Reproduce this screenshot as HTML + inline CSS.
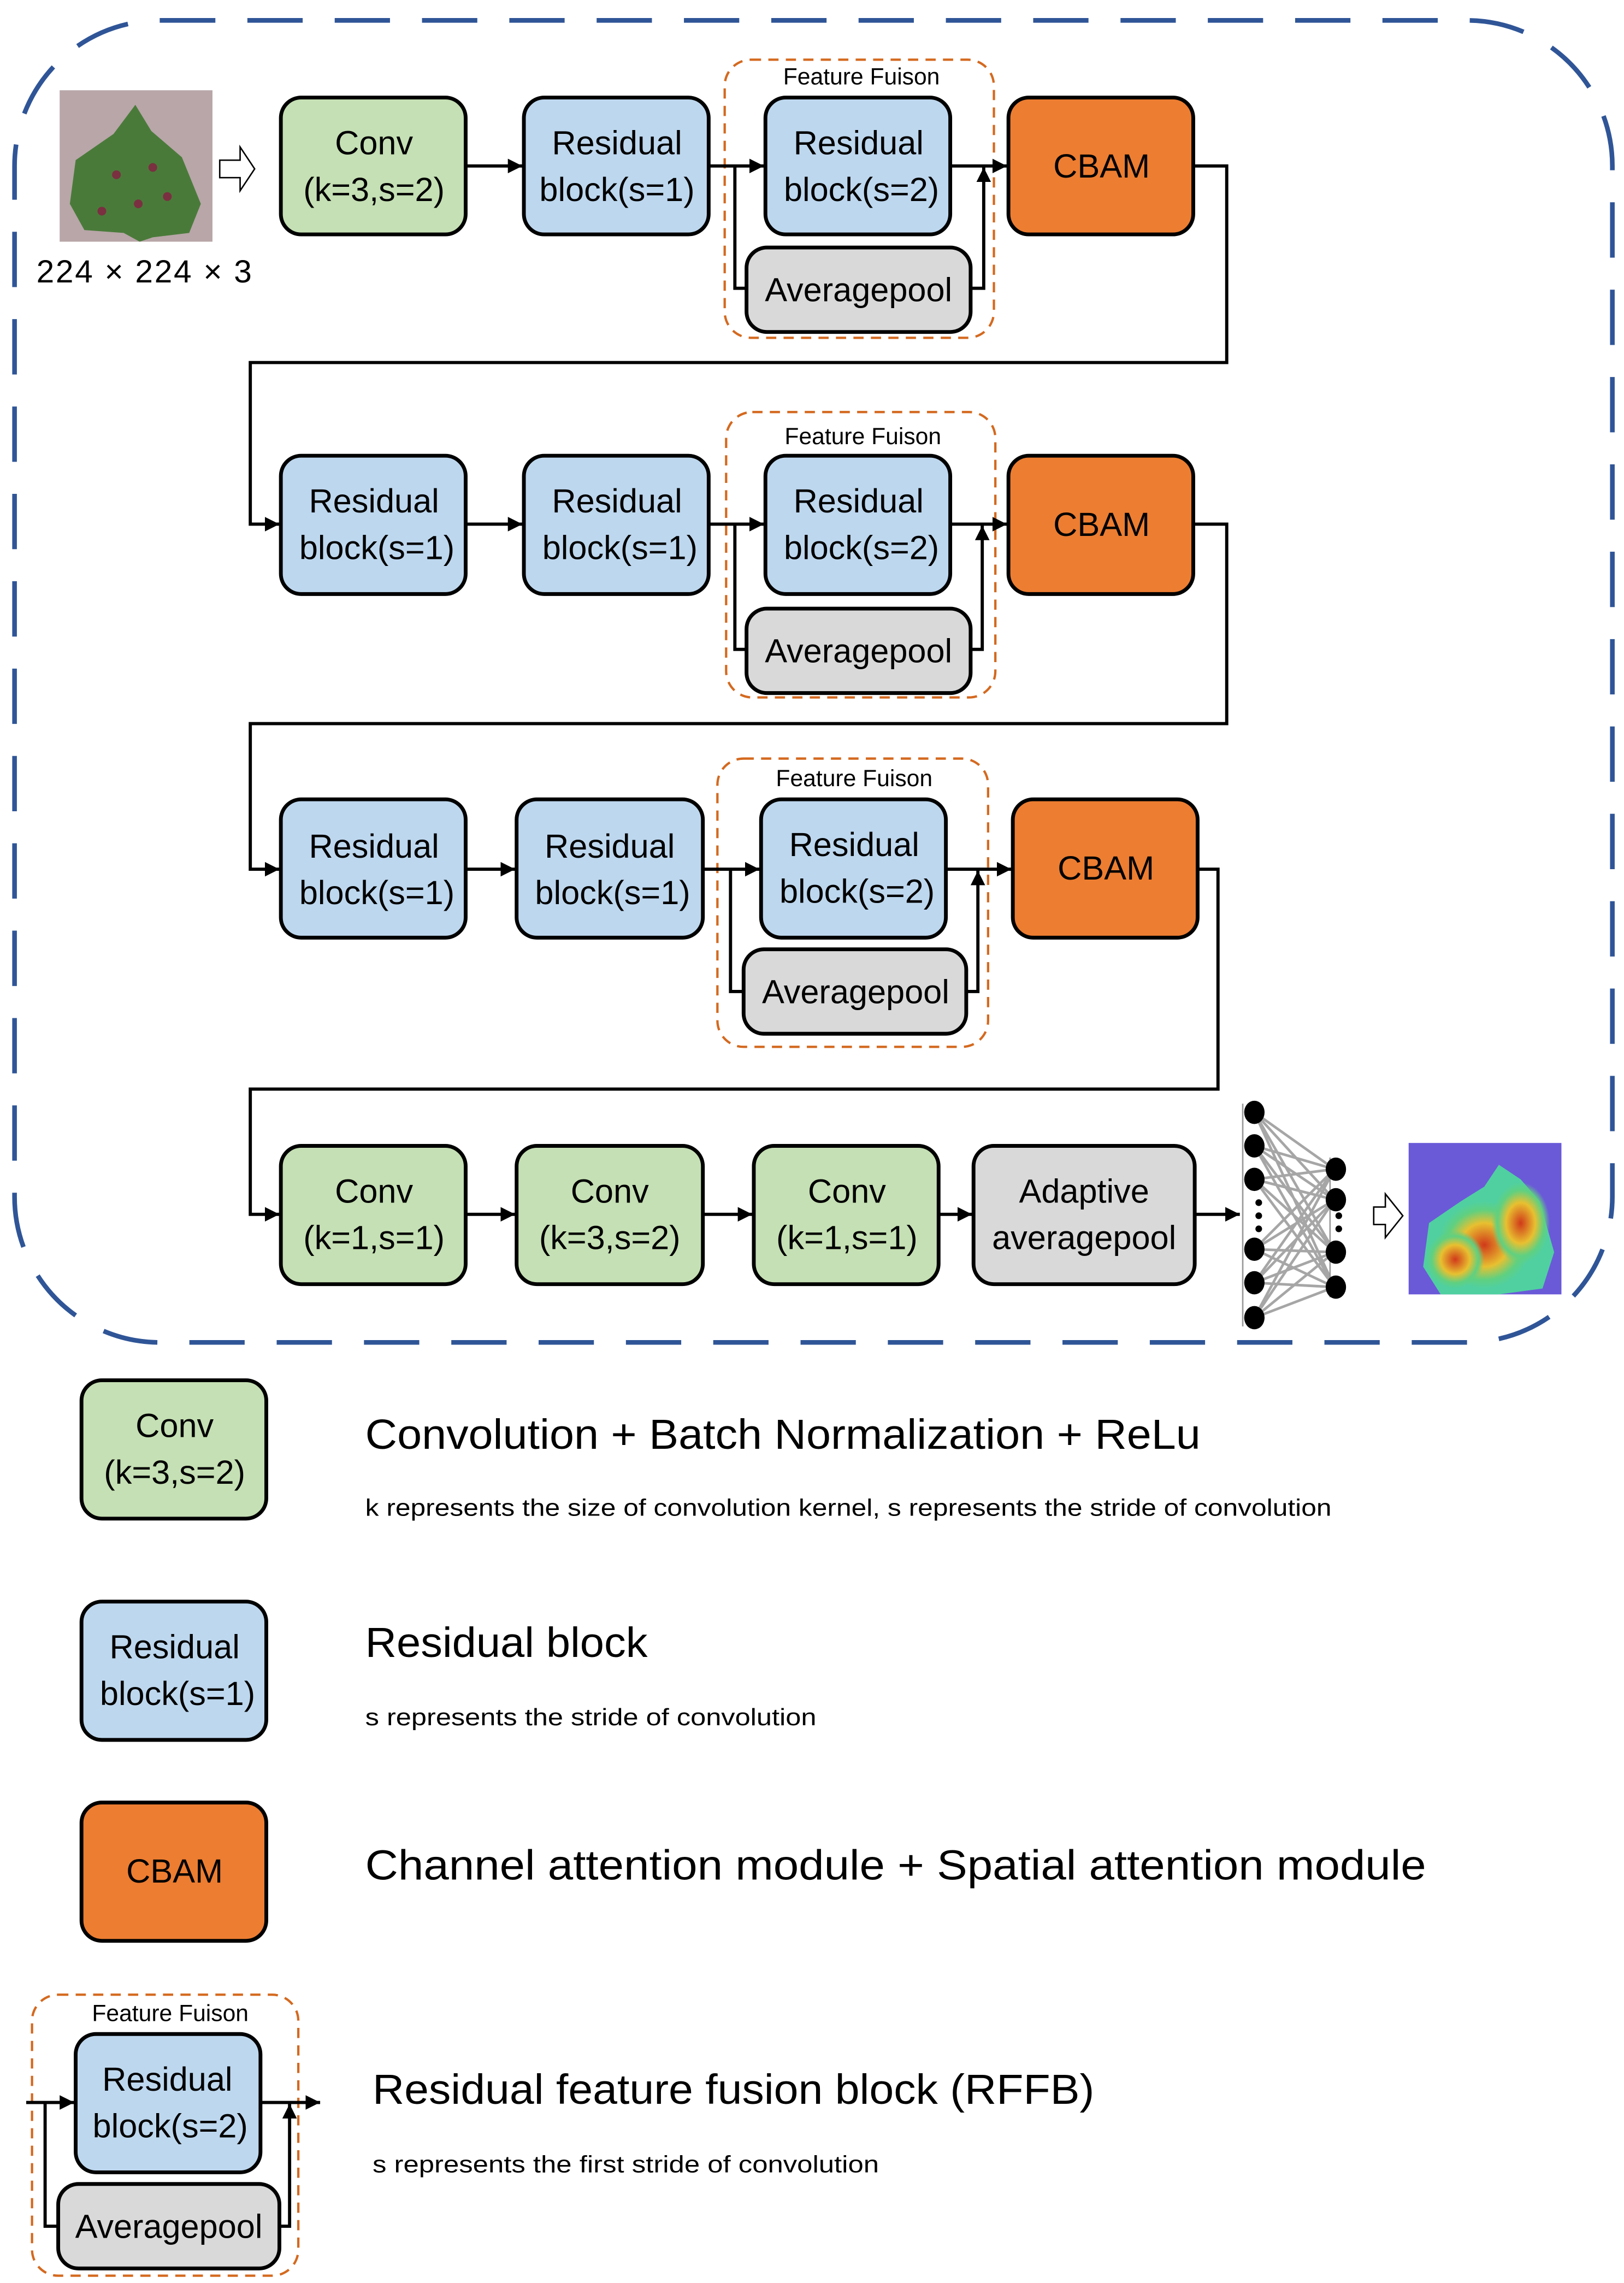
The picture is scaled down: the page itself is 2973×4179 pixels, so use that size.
<!DOCTYPE html>
<html><head><meta charset="utf-8"><style>
html,body{margin:0;padding:0;background:#fff}
svg{display:block}
text{font-family:"Liberation Sans",sans-serif;fill:#000}
.b{stroke:#000;stroke-width:2.6}
.t{font-size:23px;text-anchor:middle}
.l{stroke:#000;stroke-width:2.2;fill:none}
.ff{fill:none;stroke:#d4691f;stroke-width:1.6;stroke-dasharray:7,5}
</style></head><body>
<svg width="2973" height="4179" viewBox="0 0 1116 1568" preserveAspectRatio="none" xmlns="http://www.w3.org/2000/svg">
<defs>
<marker id="A" viewBox="0 0 10 10" refX="10" refY="5" markerWidth="10" markerHeight="10" orient="auto" markerUnits="userSpaceOnUse"><path d="M0,0 L10,5 L0,10 z" fill="#000"/></marker>
<radialGradient id="h1" cx="0.5" cy="0.5" r="0.5"><stop offset="0" stop-color="#d03a1a"/><stop offset="0.5" stop-color="#e8c030"/><stop offset="0.8" stop-color="#60d080"/><stop offset="1" stop-color="#60d080" stop-opacity="0"/></radialGradient>
</defs>
<rect x="10" y="14" width="1098" height="908" rx="100" fill="none" stroke="#2f5597" stroke-width="3.2" stroke-dasharray="38,22"/>

<!-- leaf -->
<rect x="41" y="62" width="105" height="104" fill="#b8a6a8"/>
<path d="M93,72 L104,90 L125,108 L138,140 L130,160 L105,163 L96,166 L85,160 L58,158 L48,140 L52,110 L78,92 Z" fill="#4a7a3a"/>
<circle cx="80" cy="120" r="3" fill="#7a3040"/><circle cx="105" cy="115" r="3" fill="#7a3040"/><circle cx="95" cy="140" r="3" fill="#7a3040"/><circle cx="115" cy="135" r="3" fill="#7a3040"/><circle cx="70" cy="145" r="3" fill="#7a3040"/>
<text x="25" y="194" style="font-size:22px" textLength="148" lengthAdjust="spacing">224 × 224 × 3</text>
<path d="M151,110 h14 v-9 l10,15 l-10,15 v-9 h-14z" fill="#fff" stroke="#000" stroke-width="1"/>

<!-- Row1 -->
<rect class="b" x="193" y="67" width="127" height="94" rx="14" fill="#c5e0b4"/>
<text class="t" x="257" y="106">Conv</text><text class="t" x="257" y="138">(k=3,s=2)</text>
<rect class="b" x="360" y="67" width="127" height="94" rx="14" fill="#bdd7ee"/>
<text class="t" x="424" y="106">Residual</text><text class="t" x="424" y="138">block(s=1)</text>
<rect class="ff" x="498" y="41" width="185" height="191" rx="18"/>
<text x="592" y="58" style="font-size:16px;text-anchor:middle">Feature Fuison</text>
<rect class="b" x="526" y="67" width="127" height="94" rx="14" fill="#bdd7ee"/>
<text class="t" x="590" y="106">Residual</text><text class="t" x="592" y="138">block(s=2)</text>
<rect class="b" x="513" y="170" width="154" height="58" rx="14" fill="#d9d9d9"/>
<text class="t" x="590" y="207">Averagepool</text>
<rect class="b" x="693" y="67" width="127" height="94" rx="14" fill="#ed7d31"/>
<text class="t" x="757" y="122">CBAM</text>
<path class="l" d="M320,114 H359" marker-end="url(#A)"/>
<path class="l" d="M487,114 H525" marker-end="url(#A)"/>
<path class="l" d="M505,114 V198 H513"/>
<path class="l" d="M667,198 H676 V115" marker-end="url(#A)"/>
<path class="l" d="M653,114 H692" marker-end="url(#A)"/>
<path class="l" d="M820,114 H843 V249 H172 V360 H192" marker-end="url(#A)"/>

<!-- Row2 -->
<rect class="b" x="193" y="313" width="127" height="95" rx="14" fill="#bdd7ee"/>
<text class="t" x="257" y="352">Residual</text><text class="t" x="259" y="384">block(s=1)</text>
<rect class="b" x="360" y="313" width="127" height="95" rx="14" fill="#bdd7ee"/>
<text class="t" x="424" y="352">Residual</text><text class="t" x="426" y="384">block(s=1)</text>
<rect class="ff" x="499" y="283" width="185" height="196" rx="18"/>
<text x="593" y="305" style="font-size:16px;text-anchor:middle">Feature Fuison</text>
<rect class="b" x="526" y="313" width="127" height="95" rx="14" fill="#bdd7ee"/>
<text class="t" x="590" y="352">Residual</text><text class="t" x="592" y="384">block(s=2)</text>
<rect class="b" x="513" y="418" width="154" height="58" rx="14" fill="#d9d9d9"/>
<text class="t" x="590" y="455">Averagepool</text>
<rect class="b" x="693" y="313" width="127" height="95" rx="14" fill="#ed7d31"/>
<text class="t" x="757" y="368">CBAM</text>
<path class="l" d="M320,360 H359" marker-end="url(#A)"/>
<path class="l" d="M487,360 H525" marker-end="url(#A)"/>
<path class="l" d="M505,360 V446 H513"/>
<path class="l" d="M667,446 H675 V361" marker-end="url(#A)"/>
<path class="l" d="M653,360 H692" marker-end="url(#A)"/>
<path class="l" d="M820,360 H843 V497 H172 V597 H192" marker-end="url(#A)"/>

<!-- Row3 -->
<rect class="b" x="193" y="549" width="127" height="95" rx="14" fill="#bdd7ee"/>
<text class="t" x="257" y="589">Residual</text><text class="t" x="259" y="621">block(s=1)</text>
<rect class="b" x="355" y="549" width="128" height="95" rx="14" fill="#bdd7ee"/>
<text class="t" x="419" y="589">Residual</text><text class="t" x="421" y="621">block(s=1)</text>
<rect class="ff" x="493" y="521" width="186" height="198" rx="18"/>
<text x="587" y="540" style="font-size:16px;text-anchor:middle">Feature Fuison</text>
<rect class="b" x="523" y="549" width="127" height="95" rx="14" fill="#bdd7ee"/>
<text class="t" x="587" y="588">Residual</text><text class="t" x="589" y="620">block(s=2)</text>
<rect class="b" x="511" y="652" width="153" height="58" rx="14" fill="#d9d9d9"/>
<text class="t" x="588" y="689">Averagepool</text>
<rect class="b" x="696" y="549" width="127" height="95" rx="14" fill="#ed7d31"/>
<text class="t" x="760" y="604">CBAM</text>
<path class="l" d="M320,597 H354" marker-end="url(#A)"/>
<path class="l" d="M483,597 H522" marker-end="url(#A)"/>
<path class="l" d="M502,597 V681 H511"/>
<path class="l" d="M664,681 H672 V598" marker-end="url(#A)"/>
<path class="l" d="M650,597 H695" marker-end="url(#A)"/>
<path class="l" d="M823,597 H837 V748 H172 V834 H192" marker-end="url(#A)"/>

<!-- Row4 -->
<rect class="b" x="193" y="787" width="127" height="95" rx="14" fill="#c5e0b4"/>
<text class="t" x="257" y="826">Conv</text><text class="t" x="257" y="858">(k=1,s=1)</text>
<rect class="b" x="355" y="787" width="128" height="95" rx="14" fill="#c5e0b4"/>
<text class="t" x="419" y="826">Conv</text><text class="t" x="419" y="858">(k=3,s=2)</text>
<rect class="b" x="518" y="787" width="127" height="95" rx="14" fill="#c5e0b4"/>
<text class="t" x="582" y="826">Conv</text><text class="t" x="582" y="858">(k=1,s=1)</text>
<rect class="b" x="669" y="787" width="152" height="95" rx="14" fill="#d9d9d9"/>
<text class="t" x="745" y="826">Adaptive</text><text class="t" x="745" y="858">averagepool</text>
<path class="l" d="M320,834 H354" marker-end="url(#A)"/>
<path class="l" d="M483,834 H517" marker-end="url(#A)"/>
<path class="l" d="M645,834 H668" marker-end="url(#A)"/>
<path class="l" d="M821,834 H852" marker-end="url(#A)"/>

<!-- NN -->
<g stroke="#a6a6a6" stroke-width="1.8">
<path d="M862,764 L917,803 M862,764 L917,824 M862,764 L917,860 M862,764 L917,884
M862,787 L917,803 M862,787 L917,824 M862,787 L917,860 M862,787 L917,884
M862,810 L917,803 M862,810 L917,824 M862,810 L917,860 M862,810 L917,884
M862,858 L917,803 M862,858 L917,824 M862,858 L917,860 M862,858 L917,884
M862,881 L917,803 M862,881 L917,824 M862,881 L917,860 M862,881 L917,884
M862,905 L917,803 M862,905 L917,824 M862,905 L917,860 M862,905 L917,884"/>
</g>
<path d="M854,758 V911 M914,795 V891" stroke="#999" stroke-width="1"/>
<g fill="#000">
<ellipse cx="862" cy="764" rx="7" ry="8"/><ellipse cx="862" cy="787" rx="7" ry="8"/><ellipse cx="862" cy="810" rx="7" ry="8"/>
<ellipse cx="862" cy="858" rx="7" ry="8"/><ellipse cx="862" cy="881" rx="7" ry="8"/><ellipse cx="862" cy="905" rx="7" ry="8"/>
<ellipse cx="918" cy="803" rx="7" ry="8"/><ellipse cx="918" cy="824" rx="7" ry="8"/><ellipse cx="918" cy="860" rx="7" ry="8"/><ellipse cx="918" cy="884" rx="7" ry="8"/>
<circle cx="865" cy="826" r="2.3"/><circle cx="865" cy="835" r="2.3"/><circle cx="865" cy="844" r="2.3"/>
<circle cx="920" cy="826" r="2.3"/><circle cx="920" cy="835" r="2.3"/><circle cx="920" cy="844" r="2.3"/>
</g>
<path d="M944,829 h8 v-9 l12,15 l-12,15 v-9 h-8z" fill="#fff" stroke="#000" stroke-width="1"/>
<!-- heatmap -->
<rect x="968" y="785" width="105" height="104" fill="#6a5ad8"/>
<path d="M1004,825 L1020,815 L1030,800 L1045,810 L1058,825 L1068,860 L1060,885 L1030,889 L990,889 L978,870 L982,840 Z" fill="#50d0a0"/>
<ellipse cx="1020" cy="855" rx="32" ry="30" fill="url(#h1)"/>
<ellipse cx="1045" cy="840" rx="20" ry="28" fill="url(#h1)"/>
<ellipse cx="1000" cy="865" rx="20" ry="20" fill="url(#h1)"/>

<!-- Legend -->
<rect class="b" x="56" y="948" width="127" height="95" rx="14" fill="#c5e0b4"/>
<text class="t" x="120" y="987">Conv</text><text class="t" x="120" y="1019">(k=3,s=2)</text>
<text x="251" y="995" style="font-size:29px" textLength="574" lengthAdjust="spacingAndGlyphs">Convolution + Batch Normalization + ReLu</text>
<text x="251" y="1041" style="font-size:16.5px" textLength="664" lengthAdjust="spacingAndGlyphs">k represents the size of convolution kernel, s represents the stride of convolution</text>

<rect class="b" x="56" y="1100" width="127" height="95" rx="14" fill="#bdd7ee"/>
<text class="t" x="120" y="1139">Residual</text><text class="t" x="122" y="1171">block(s=1)</text>
<text x="251" y="1138" style="font-size:29px" textLength="194" lengthAdjust="spacingAndGlyphs">Residual block</text>
<text x="251" y="1185" style="font-size:16.5px" textLength="310" lengthAdjust="spacingAndGlyphs">s represents the stride of  convolution</text>

<rect class="b" x="56" y="1238" width="127" height="95" rx="14" fill="#ed7d31"/>
<text class="t" x="120" y="1293">CBAM</text>
<text x="251" y="1291" style="font-size:29px" textLength="729" lengthAdjust="spacingAndGlyphs">Channel attention module + Spatial attention module</text>

<rect class="ff" x="22" y="1370" width="183" height="193" rx="18"/>
<text x="117" y="1388" style="font-size:16px;text-anchor:middle">Feature Fuison</text>
<rect class="b" x="52" y="1397" width="127" height="95" rx="14" fill="#bdd7ee"/>
<text class="t" x="115" y="1436">Residual</text><text class="t" x="117" y="1468">block(s=2)</text>
<rect class="b" x="40" y="1500" width="152" height="58" rx="14" fill="#d9d9d9"/>
<text class="t" x="116" y="1537">Averagepool</text>
<path class="l" d="M18,1444 H51" marker-end="url(#A)"/>
<path class="l" d="M31,1444 V1529 H40"/>
<path class="l" d="M192,1529 H199 V1445" marker-end="url(#A)"/>
<path class="l" d="M179,1444 H220" marker-end="url(#A)"/>
<text x="256" y="1445" style="font-size:29px" textLength="496" lengthAdjust="spacingAndGlyphs">Residual  feature fusion block (RFFB)</text>
<text x="256" y="1492" style="font-size:16.5px" textLength="348" lengthAdjust="spacingAndGlyphs">s represents the first stride of  convolution</text>
</svg>
</body></html>
